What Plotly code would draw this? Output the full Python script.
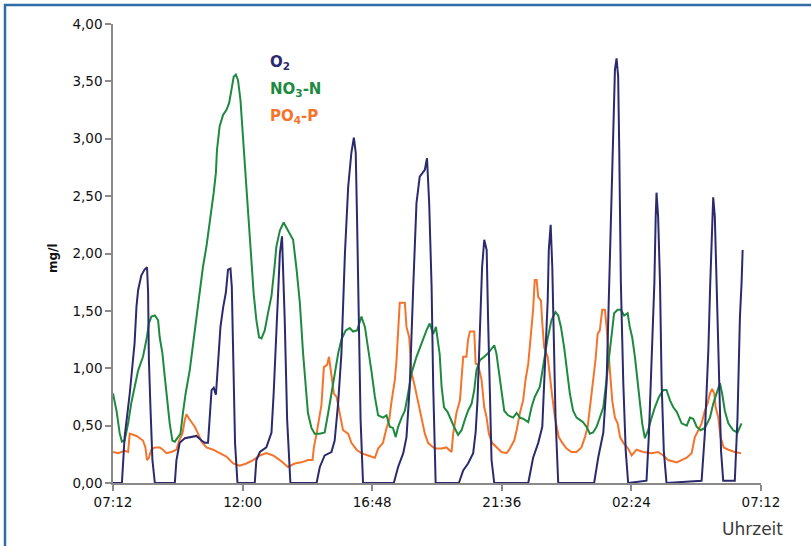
import plotly.graph_objects as go

# ---- data (hours after 07:12, mg/l) ----
o2_h = [0.00, 0.33, 0.43, 0.62, 0.80, 0.87, 0.93, 1.05, 1.17, 1.26, 1.30, 1.33, 1.39, 1.46, 1.55,
        2.29, 2.35, 2.47, 2.66, 2.84, 3.09, 3.28, 3.40, 3.52, 3.58, 3.65, 3.73, 3.81, 3.83, 3.89, 3.98,
        4.08, 4.18, 4.26, 4.35, 4.40, 4.45, 4.47, 4.52, 4.61,
        5.25, 5.31, 5.44, 5.68, 5.87, 5.95, 6.05, 6.18, 6.26, 6.36, 6.45, 6.57,
        7.54, 7.66, 7.84, 8.09, 8.21, 8.34, 8.46, 8.59, 8.71, 8.83, 8.92, 8.99, 9.04, 9.11, 9.17, 9.26,
        10.40, 10.56, 10.75, 10.87, 10.99, 11.12, 11.24, 11.36, 11.55, 11.63, 11.71, 11.80, 11.86, 11.95,
        12.81, 12.97, 13.15, 13.34, 13.43, 13.50, 13.59, 13.67, 13.75, 13.84, 13.89, 13.96, 14.02, 14.12,
        15.38, 15.56, 15.75, 15.90, 16.00, 16.10, 16.14, 16.21, 16.27, 16.32, 16.39, 16.49,
        17.82, 17.97, 18.16, 18.28, 18.37, 18.47, 18.53, 18.59, 18.65, 18.71, 18.75, 18.81, 18.90, 18.99, 19.08,
        19.76, 19.85, 19.95, 20.05, 20.10, 20.13, 20.19, 20.26, 20.32, 20.40, 20.50,
        21.80, 21.92, 22.05, 22.12, 22.17, 22.23, 22.29, 22.36, 22.44, 22.52, 22.60,
        23.03, 23.13, 23.22, 23.28, 23.32]
o2_v = [0, 0, 0.40, 0.78, 1.22, 1.54, 1.68, 1.81, 1.86, 1.88, 1.66, 1.07, 0.64, 0.20, 0,
        0, 0.20, 0.35, 0.39, 0.40, 0.41, 0.37, 0.35, 0.35, 0.55, 0.81, 0.83, 0.77, 0.83, 1.07, 1.36,
        1.53, 1.66, 1.86, 1.87, 1.71, 1.22, 0.78, 0.35, 0,
        0, 0.20, 0.27, 0.31, 0.44, 0.78, 1.36, 2.00, 2.15, 1.42, 0.55, 0,
        0, 0.14, 0.24, 0.27, 0.37, 0.70, 1.13, 2.00, 2.58, 2.88, 3.01, 2.88, 2.29, 1.42, 0.55, 0,
        0, 0.14, 0.26, 0.40, 0.84, 1.71, 2.44, 2.67, 2.73, 2.83, 2.44, 1.71, 0.84, 0,
        0, 0.11, 0.17, 0.26, 0.44, 0.72, 1.31, 1.88, 2.12, 2.03, 1.45, 0.72, 0.20, 0,
        0, 0.22, 0.35, 0.49, 1.01, 1.59, 2.03, 2.25, 1.88, 1.31, 0.57, 0,
        0, 0.22, 0.44, 0.87, 1.74, 2.62, 3.19, 3.60, 3.70, 3.54, 2.90, 1.74, 0.87, 0.28, 0,
        0.02, 0.43, 1.16, 1.74, 2.32, 2.53, 2.32, 1.74, 0.87, 0.28, 0,
        0.02, 0.43, 1.16, 1.74, 2.18, 2.49, 2.32, 1.74, 0.87, 0.28, 0.02,
        0.02, 0.57, 1.45, 1.74, 2.03]

no3_h = [0.00, 0.13, 0.25, 0.33, 0.43, 0.56, 0.68, 0.80, 0.93, 1.11, 1.24, 1.33, 1.42, 1.55, 1.67,
         1.73, 1.83, 1.92, 2.00, 2.10, 2.20, 2.29, 2.41, 2.50, 2.59, 2.69, 2.84, 2.94, 3.03, 3.11,
         3.21, 3.33, 3.46, 3.56, 3.65, 3.73, 3.81, 3.85, 3.95, 4.08, 4.20, 4.30, 4.39, 4.47, 4.55,
         4.63, 4.72, 4.79, 4.88, 4.94, 5.04, 5.13, 5.21, 5.31, 5.41, 5.50, 5.62, 5.74, 5.87, 5.99,
         6.05, 6.18, 6.32, 6.48, 6.67, 6.80, 6.92, 7.04, 7.14, 7.22, 7.35, 7.47, 7.66, 7.84, 7.97,
         8.09, 8.21, 8.34, 8.46, 8.62, 8.77, 8.89, 9.04, 9.20, 9.33, 9.45, 9.57, 9.70, 9.82, 10.00,
         10.13, 10.25, 10.37, 10.47, 10.56, 10.69, 10.81, 10.93, 11.06, 11.24, 11.43, 11.61, 11.73,
         11.86, 11.96, 12.10, 12.17, 12.26, 12.39, 12.51, 12.63, 12.78, 12.91, 13.03, 13.15, 13.28,
         13.38, 13.46, 13.59, 13.75, 13.89, 14.02, 14.12, 14.20, 14.29, 14.39, 14.49, 14.63, 14.82,
         14.95, 15.07, 15.19, 15.38, 15.50, 15.62, 15.81, 15.93, 16.09, 16.24, 16.39, 16.49, 16.59,
         16.71, 16.84, 16.92, 17.04, 17.17, 17.29, 17.41, 17.54, 17.66, 17.78, 17.91, 18.03, 18.16,
         18.22, 18.34, 18.47, 18.56, 18.69, 18.81, 18.93, 19.06, 19.14, 19.23, 19.33, 19.43, 19.51,
         19.60, 19.70, 19.82, 19.95, 20.07, 20.22, 20.38, 20.50, 20.63, 20.75, 20.88, 21.06, 21.25,
         21.37, 21.49, 21.62, 21.77, 21.92, 22.11, 22.23, 22.39, 22.48, 22.56, 22.66, 22.79, 22.97,
         23.13, 23.28]
no3_v = [0.78, 0.63, 0.43, 0.36, 0.37, 0.52, 0.70, 0.84, 0.98, 1.10, 1.25, 1.39, 1.45, 1.46, 1.42,
         1.27, 1.13, 0.92, 0.72, 0.52, 0.37, 0.36, 0.40, 0.43, 0.61, 0.78, 0.98, 1.16, 1.36, 1.51,
         1.68, 1.88, 2.06, 2.23, 2.38, 2.53, 2.70, 2.90, 3.11, 3.21, 3.25, 3.31, 3.43, 3.54, 3.56,
         3.51, 3.34, 3.11, 2.81, 2.53, 2.23, 1.94, 1.65, 1.42, 1.27, 1.26, 1.33, 1.48, 1.63, 1.90,
         2.06, 2.20, 2.27, 2.20, 2.12, 1.86, 1.57, 1.13, 0.84, 0.61, 0.48, 0.43, 0.43, 0.44, 0.61,
         0.78, 0.96, 1.13, 1.25, 1.33, 1.35, 1.32, 1.33, 1.45, 1.36, 1.18, 0.98, 0.75, 0.59, 0.57,
         0.59, 0.49, 0.48, 0.40, 0.49, 0.57, 0.63, 0.78, 0.96, 1.10, 1.22, 1.33, 1.39,
         1.30, 1.36, 1.12, 0.84, 0.66, 0.62, 0.55, 0.49, 0.42, 0.46, 0.55, 0.63, 0.69,
         0.81, 0.98, 1.07, 1.10, 1.13, 1.17, 1.20, 1.13, 0.96, 0.78, 0.63, 0.59, 0.57,
         0.61, 0.57, 0.56, 0.53, 0.66, 0.75, 0.84, 1.01, 1.25, 1.42, 1.49, 1.46, 1.36,
         1.18, 0.96, 0.78, 0.63, 0.57, 0.55, 0.53, 0.49, 0.43, 0.44, 0.49, 0.57, 0.66,
         0.78, 1.01, 1.31, 1.48, 1.51, 1.51, 1.46, 1.48, 1.36, 1.27, 1.10, 0.87, 0.69,
         0.52, 0.39, 0.46, 0.57, 0.66, 0.75, 0.81, 0.81, 0.72, 0.66, 0.62, 0.52, 0.50,
         0.57, 0.56, 0.49, 0.46, 0.48, 0.57, 0.69, 0.81, 0.87, 0.78, 0.63, 0.52, 0.46,
         0.44, 0.52]

po4_h = [0.00, 0.19, 0.43, 0.56, 0.62, 0.74, 0.87, 0.99, 1.11, 1.20, 1.26, 1.33, 1.42, 1.55, 1.73,
         1.85, 1.98, 2.16, 2.35, 2.45, 2.57, 2.66, 2.72, 2.82, 2.90, 3.03, 3.15, 3.28, 3.46, 3.71,
         3.95, 4.20, 4.45, 4.69, 4.94, 5.19, 5.44, 5.68, 5.93, 6.18, 6.48, 6.73, 6.98, 7.22, 7.39,
         7.44, 7.54, 7.63, 7.72, 7.81, 7.93, 8.00, 8.09, 8.18, 8.28, 8.40, 8.52, 8.71, 8.83, 9.02,
         9.20, 9.45, 9.70, 9.82, 10.00, 10.13, 10.23, 10.31, 10.44, 10.50, 10.62, 10.81, 10.87,
         10.97, 11.06, 11.18, 11.30, 11.43, 11.55, 11.67, 11.86, 11.98, 12.17, 12.35, 12.54, 12.60,
         12.72, 12.85, 12.91, 12.97, 13.09, 13.15, 13.22, 13.38, 13.43, 13.52, 13.65, 13.75, 13.83,
         13.92, 14.04, 14.20, 14.39, 14.58, 14.70, 14.86, 14.95, 15.07, 15.19, 15.28, 15.38, 15.48,
         15.56, 15.62, 15.69, 15.75, 15.85, 15.90, 15.97, 16.10, 16.18, 16.27, 16.37, 16.51, 16.64,
         16.80, 16.98, 17.17, 17.35, 17.48, 17.58, 17.66, 17.78, 17.87, 17.95, 18.03, 18.12, 18.22,
         18.28, 18.34, 18.40, 18.49, 18.59, 18.69, 18.78, 18.90, 19.08, 19.21, 19.39, 19.64, 19.95,
         20.19, 20.38, 20.56, 20.88, 21.06, 21.25, 21.43, 21.55, 21.68, 21.80, 21.92, 22.02, 22.11,
         22.19, 22.27, 22.32, 22.42, 22.50, 22.62, 22.79, 23.03, 23.26]
po4_v = [0.27, 0.26, 0.28, 0.27, 0.43, 0.42, 0.41, 0.39, 0.37, 0.31, 0.20, 0.22, 0.29, 0.31, 0.31,
         0.29, 0.26, 0.27, 0.29, 0.37, 0.43, 0.55, 0.60, 0.56, 0.53, 0.49, 0.43, 0.36, 0.31, 0.29,
         0.26, 0.23, 0.17, 0.15, 0.17, 0.20, 0.24, 0.26, 0.24, 0.20, 0.14, 0.17, 0.18, 0.20, 0.20,
         0.31, 0.43, 0.54, 0.68, 1.01, 1.03, 1.10, 0.96, 0.78, 0.75, 0.61, 0.46, 0.43, 0.35, 0.29,
         0.26, 0.24, 0.22, 0.30, 0.35, 0.48, 0.55, 0.70, 0.90, 1.07, 1.57, 1.57, 1.36,
         1.27, 0.96, 0.84, 0.70, 0.55, 0.43, 0.35, 0.31, 0.30, 0.30, 0.31, 0.27, 0.43,
         0.61, 0.72, 0.90, 1.10, 1.10, 1.25, 1.32, 1.32, 1.04, 1.03, 0.90, 0.66, 0.58,
         0.43, 0.35, 0.31, 0.27, 0.26, 0.30, 0.37, 0.46, 0.61, 0.72, 0.90, 1.04, 1.30,
         1.51, 1.77, 1.77, 1.62, 1.59, 1.39, 1.18, 1.10, 0.92, 0.75, 0.57, 0.40, 0.35,
         0.30, 0.27, 0.27, 0.31, 0.40, 0.49, 0.66, 0.90, 1.07, 1.30, 1.33, 1.51, 1.51,
         1.36, 1.18, 0.98, 0.72, 0.57, 0.52, 0.40, 0.35, 0.30, 0.24, 0.29, 0.27, 0.26,
         0.27, 0.24, 0.20, 0.18, 0.20, 0.22, 0.26, 0.40, 0.46, 0.52, 0.63, 0.69, 0.78,
         0.82, 0.78, 0.66, 0.57, 0.40, 0.31, 0.29, 0.27, 0.26]

x_tickvals = [0, 4.8, 9.6, 14.4, 19.2, 24]
x_ticktext = ["07:12", "12:00", "16:48", "21:36", "02:24", "07:12"]

series_names = ["O<sub>2</sub>", "NO<sub>3</sub>-N", "PO<sub>4</sub>-P"]
c_o2, c_no3, c_po4 = "#2b2a6e", "#1e8a3f", "#f5742c"

fig = go.Figure()
fig.add_trace(go.Scatter(x=po4_h, y=po4_v, mode="lines", line=dict(color=c_po4, width=2), showlegend=False))
fig.add_trace(go.Scatter(x=no3_h, y=no3_v, mode="lines", line=dict(color=c_no3, width=2), showlegend=False))
fig.add_trace(go.Scatter(x=o2_h, y=o2_v, mode="lines", line=dict(color=c_o2, width=2), showlegend=False))

W, H = 811, 546
L, R, T, B = 113, 50, 24, 63
pw, ph = W - L - R, H - T - B

def px(xp):
    return (xp - L) / pw

def py(yp):
    return (H - B - yp) / ph

FONT = "DejaVu Sans, Liberation Sans, Arial, sans-serif"
axis_col = "#8a8a8a"
fig.update_layout(
    width=W, height=H,
    margin=dict(l=L, r=R, t=T, b=B, pad=0),
    paper_bgcolor="white", plot_bgcolor="white",
    separators=",.",
    font=dict(family=FONT, size=13.5, color="#111111"),
    xaxis=dict(range=[0, 24], tickvals=x_tickvals, ticktext=x_ticktext, showgrid=False,
               zeroline=False, showline=True, linecolor=axis_col, linewidth=2,
               ticks="outside", ticklen=6, tickcolor=axis_col, tickwidth=1.5,
               tickfont=dict(size=13.5, family=FONT, color="#111111")),
    yaxis=dict(range=[0, 4], dtick=0.5, tick0=0, tickformat=".2f", showgrid=False,
               zeroline=False, showline=True, linecolor=axis_col, linewidth=1.5,
               ticks="outside", ticklen=6, tickcolor=axis_col, tickwidth=1.5,
               tickfont=dict(size=13.5, family=FONT, color="#111111")),
)

legend_y = [62, 89, 116]
for name, col, yy in zip(series_names, [c_o2, c_no3, c_po4], legend_y):
    fig.add_annotation(x=px(268), y=py(yy), xref="paper", yref="paper", text="<b>" + name + "</b>",
                       showarrow=False, xanchor="left", yanchor="middle",
                       font=dict(size=15, color=col, family=FONT))

fig.add_annotation(x=px(53), y=py(258), xref="paper", yref="paper", text="<b>mg/l</b>",
                   textangle=-90, showarrow=False, xanchor="center", yanchor="middle",
                   font=dict(size=12, color="#111111", family=FONT))
fig.add_annotation(x=px(752), y=py(529), xref="paper", yref="paper", text="Uhrzeit",
                   showarrow=False, xanchor="center", yanchor="middle",
                   font=dict(size=17, color="#3a3a3a", family=FONT))

fig.add_shape(type="rect", xref="paper", yref="paper",
              x0=px(5), x1=px(900), y0=py(620), y1=py(5),
              line=dict(color="#2f6da6", width=2.5), fillcolor="rgba(0,0,0,0)", layer="above")

fig.write_html("out.html", config={"displayModeBar": False},
               post_script="document.body.style.margin='0px';document.body.style.padding='0px';")
